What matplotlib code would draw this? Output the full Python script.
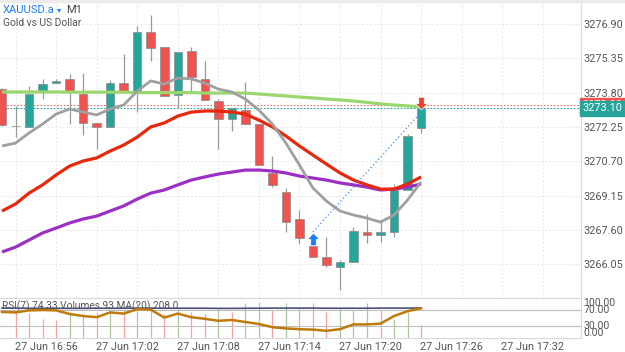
import numpy as np
import matplotlib.pyplot as plt
import matplotlib.transforms as mtransforms
from matplotlib.path import Path
from matplotlib.patches import Rectangle

plt.rcParams['font.family'] = ['Roboto', 'DejaVu Sans']

# M1 candles, 27 Jun 16:53 .. 17:24
opens = [3273.96, 3272.29, 3272.25, 3273.87, 3274.23, 3274.42, 3273.74, 3272.43,
         3272.25, 3274.23, 3273.87, 3276.54, 3275.86, 3273.69, 3275.68, 3274.42,
         3273.42, 3272.61, 3273.01, 3272.38, 3270.17, 3269.31, 3268.09, 3266.87,
         3266.37, 3265.92, 3266.15, 3267.50, 3267.37, 3267.50, 3269.40, 3272.20]
highs = [3273.99, 3273.20, 3274.10, 3274.42, 3274.42, 3274.64, 3274.69, 3272.43,
         3274.37, 3275.55, 3276.81, 3277.31, 3275.86, 3275.64, 3275.86, 3275.23,
         3273.51, 3273.10, 3274.28, 3272.38, 3270.94, 3269.49, 3268.50, 3266.87,
         3267.28, 3266.24, 3267.73, 3268.31, 3268.04, 3269.67, 3271.93, 3273.10]
lows = [3272.30, 3271.79, 3272.25, 3273.51, 3274.23, 3272.38, 3271.88, 3271.25,
        3272.25, 3273.87, 3272.92, 3275.23, 3273.65, 3273.10, 3273.78, 3273.47,
        3271.25, 3272.07, 3272.38, 3270.53, 3269.53, 3267.50, 3266.96, 3266.37,
        3265.92, 3264.88, 3266.15, 3267.00, 3267.05, 3267.28, 3269.40, 3271.98]
closes = [3272.34, 3272.30, 3273.74, 3274.19, 3274.33, 3273.87, 3272.43, 3272.25,
          3274.23, 3273.87, 3276.54, 3275.82, 3273.65, 3275.64, 3274.51, 3273.47,
          3272.61, 3273.10, 3272.38, 3270.53, 3269.63, 3267.95, 3267.23, 3266.37,
          3266.01, 3266.15, 3267.55, 3267.37, 3267.50, 3269.40, 3271.84, 3273.10]

ma_fast = [3271.39, 3271.52, 3271.98, 3272.38, 3272.83, 3273.06, 3272.92, 3272.79,
           3273.06, 3273.24, 3273.87, 3274.33, 3274.19, 3274.46, 3274.42, 3274.23,
           3273.96, 3273.83, 3273.51, 3273.01, 3272.38, 3271.52, 3270.53, 3269.49,
           3268.90, 3268.45, 3268.27, 3268.13, 3267.95, 3268.27, 3268.95, 3269.76]
ma_mid = [3268.45, 3268.77, 3269.26, 3269.63, 3270.08, 3270.48, 3270.71, 3270.85,
          3271.16, 3271.43, 3271.79, 3272.25, 3272.43, 3272.74, 3272.92, 3272.97,
          3272.97, 3272.92, 3272.83, 3272.56, 3272.25, 3271.84, 3271.39, 3270.98,
          3270.57, 3270.17, 3269.85, 3269.63, 3269.44, 3269.44, 3269.67, 3269.99]
ma_slow = [3266.60, 3266.82, 3267.14, 3267.46, 3267.68, 3267.91, 3268.09, 3268.22,
           3268.45, 3268.68, 3268.99, 3269.26, 3269.40, 3269.63, 3269.85, 3269.99,
           3270.12, 3270.21, 3270.30, 3270.30, 3270.26, 3270.17, 3270.03, 3269.94,
           3269.85, 3269.72, 3269.63, 3269.53, 3269.40, 3269.44, 3269.53, 3269.67]
ma_long = [3273.83, 3273.83, 3273.83, 3273.83, 3273.83, 3273.82, 3273.82, 3273.82,
           3273.82, 3273.82, 3273.80, 3273.80, 3273.80, 3273.80, 3273.80, 3273.78,
           3273.78, 3273.78, 3273.78, 3273.74, 3273.69, 3273.65, 3273.60, 3273.56,
           3273.51, 3273.47, 3273.42, 3273.36, 3273.29, 3273.24, 3273.20, 3273.15]

rsi = [65, 64, 69, 70, 69, 60, 55, 52, 64, 61, 72, 71, 51, 61, 52, 48,
       43, 45, 40, 35, 27, 24, 22, 21, 18, 22, 34, 34, 36, 55, 67, 74.33]
volumes = [179, 174, 130, 125, 179, 166, 179, 203, 191, 240, 203, 166, 203, 179, 166,
           203, 179, 240, 252, 191, 240, 203, 240, 179, 203, 191, 240, 191, 130, 179, 93]
volume_up = [0, 0, 0, 0, 1, 1, 0, 1, 0, 1, 0, 0, 1, 0, 0,
             1, 0, 1, 1, 0, 1, 1, 0, 0, 1, 1, 1, 0, 1, 1, 0]
volume_ma = [207, 207, 206, 206, 206, 205, 205, 206, 206, 206, 207, 207, 206, 206, 206, 206,
             205, 205, 206, 206, 207, 207, 207, 207, 206, 206, 206, 206, 207, 207, 207, 208]

bid, ask = 3273.10, 3273.22
buy_idx, buy_price = 23, 3267.20
sell_idx, sell_price = 31, 3273.31
trade_line = ([23, 31], [3267.50, 3272.92])

price_ticks = [3266.05, 3267.60, 3269.15, 3270.70, 3272.25, 3273.80, 3275.35, 3276.90]
time_labels = ["27 Jun 16:56", "27 Jun 17:02", "27 Jun 17:08", "27 Jun 17:14",
               "27 Jun 17:20", "27 Jun 17:26", "27 Jun 17:32"]
time_pos = [3.25, 9.25, 15.25, 21.25, 27.25, 33.25, 39.25]

up_c, dn_c = '#26a69a', '#ef5350'
txt_c = '#555555'
spine_c = '#d9d9d9'

idx = np.arange(len(opens))
o, h, l, c = map(np.array, (opens, highs, lows, closes))
up = c >= o

fig = plt.figure(figsize=(6.25, 3.52), dpi=100)
ax = fig.add_axes([0, 54 / 352, 581 / 625, 296 / 352])
axr = fig.add_axes([0, 14 / 352, 581 / 625, 40 / 352])
fig.patches.append(Rectangle((0, 1 - 2 / 352), 1, 2 / 352, transform=fig.transFigure,
                             color='#ececec', zorder=0))

xlim = (-0.15, 42.83)

# candles
ax.vlines(idx, l, h, color='#9a9a9a', lw=0.9, zorder=2)
ax.bar(idx, np.maximum(np.abs(c - o), 0.02), bottom=np.minimum(o, c), width=0.63,
       color=np.where(up, up_c, dn_c), edgecolor='#8a8a8a', linewidth=0.5, zorder=3)

# moving averages
ax.plot(idx, ma_long, color='#9bd66e', lw=2.3, zorder=4, solid_capstyle='butt')
ax.plot(idx, ma_slow, color='#9c2fc4', lw=2.3, zorder=4, solid_capstyle='butt')
ax.plot(idx, ma_mid, color='#e8280c', lw=2.3, zorder=4, solid_capstyle='butt')
ax.plot(idx, ma_fast, color='#a0a0a0', lw=2.0, zorder=5, solid_capstyle='butt')

# bid / ask lines
ax.axhline(ask, color='#e57373', lw=0.8, ls=(0, (1.5, 1.5)), zorder=1)
ax.axhline(bid, color=up_c, lw=0.8, ls=(0, (1.5, 1.5)), zorder=1)

# trade markers
arrow_up = Path([(-0.22, -0.5), (0.22, -0.5), (0.22, 0.0), (0.5, 0.0), (0.0, 0.5),
                 (-0.5, 0.0), (-0.22, 0.0), (-0.22, -0.5)])
arrow_dn = Path([(x, -y) for x, y in arrow_up.vertices])
ax.plot(*trade_line, color='#3d8af7', lw=0.9, ls=(0, (1, 2)), zorder=6)
ax.plot(buy_idx, buy_price, marker=arrow_up, ms=9, color='#1e7cf2', mec='white', mew=0.5, zorder=7)
ax.plot(sell_idx, sell_price, marker=arrow_dn, ms=9, color='#e8412f', mec='white', mew=0.5, zorder=7)

ax.set_xlim(xlim)
ax.set_ylim(3264.52, 3277.895)
ax.set_xticks(np.arange(1, 43, 3))
ax.set_yticks(price_ticks)
ax.set_yticklabels(['%.2f' % v for v in price_ticks])
ax.yaxis.tick_right()
ax.tick_params(axis='x', length=0, labelbottom=False)
ax.tick_params(axis='y', length=0, pad=2, labelsize=7.8, labelcolor=txt_c)
ax.grid(True, color='#e6e6e6', lw=0.7, ls=(0, (2, 2)))
ax.set_axisbelow(True)
for side, sp in ax.spines.items():
    sp.set_color(spine_c)
    sp.set_linewidth(0.8)
ax.spines['left'].set_visible(False)

# current price boxes
tr = mtransforms.blended_transform_factory(ax.transAxes, ax.transData)
ax.text(1.003, ask, '%.2f' % ask, transform=tr, ha='left', va='center', fontsize=7.8,
        color='white', bbox=dict(boxstyle='square,pad=0.22', fc=dn_c, ec=dn_c), clip_on=False)
ax.text(1.003, bid, '%.2f' % bid, transform=tr, ha='left', va='center', fontsize=7.8,
        color='white', bbox=dict(boxstyle='square,pad=0.22', fc=up_c, ec=up_c), clip_on=False)

# header
fig.text(3 / 625, 1 - 10 / 352, 'XAUUSD.a', color='#1a7ef5', fontsize=8, va='center')
fig.text(57 / 625, 1 - 10 / 352, '\u25be', color='#1a7ef5', fontsize=6, va='center',
         family=['DejaVu Sans'])
fig.text(66 / 625, 1 - 10 / 352, 'M1', color='#444444', fontsize=8, va='center')
fig.text(3 / 625, 1 - 23 / 352, 'Gold vs US Dollar', color=txt_c, fontsize=7.4, va='center')

# lower panel: volumes + RSI
axr.vlines(idx[1:], 0, volumes, colors=np.where(np.array(volume_up) == 1, '#abc79f', '#f7a3a3'),
           lw=0.9, zorder=2)
axr.plot(idx, volume_ma, color='#4b5175', lw=1.2, zorder=4)
axr.set_ylim(0, 277)
axr.text(0.004, 0.8, 'RSI(7) %.2f Volumes %d MA(20) %.1f' % (rsi[-1], volumes[-1], volume_ma[-1]),
         transform=axr.transAxes, fontsize=7.3, color=txt_c, va='center', zorder=1)
axr.set_xlim(xlim)
axr.set_xticks(time_pos)
axr.set_xticklabels(time_labels)
axr.tick_params(axis='x', length=0, pad=3, labelsize=7.8, labelcolor=txt_c)
axr.set_yticks([])
for sp in axr.spines.values():
    sp.set_color(spine_c)
    sp.set_linewidth(0.8)
axr.spines['left'].set_visible(False)

ax_rsi = axr.twinx()
ax_rsi.set_ylim(0, 100)
ax_rsi.axhline(70, color='#bdbdbd', lw=0.8, zorder=1)
ax_rsi.axhline(30, color='#bdbdbd', lw=0.8, zorder=1)
ax_rsi.plot(idx, rsi, color='#bf7a0c', lw=1.8, zorder=3)
ax_rsi.set_yticks([])
for sp in ax_rsi.spines.values():
    sp.set_visible(False)
trr = mtransforms.blended_transform_factory(ax_rsi.transAxes, ax_rsi.transData)
for lvl, va in ((100, 'top'), (70, 'center'), (30, 'center'), (0, 'bottom')):
    ax_rsi.text(1.004, lvl, '%.2f' % lvl, transform=trr, ha='left', va=va,
                fontsize=7.5, color=txt_c, clip_on=False)

fig.savefig('out.png', dpi=100)
